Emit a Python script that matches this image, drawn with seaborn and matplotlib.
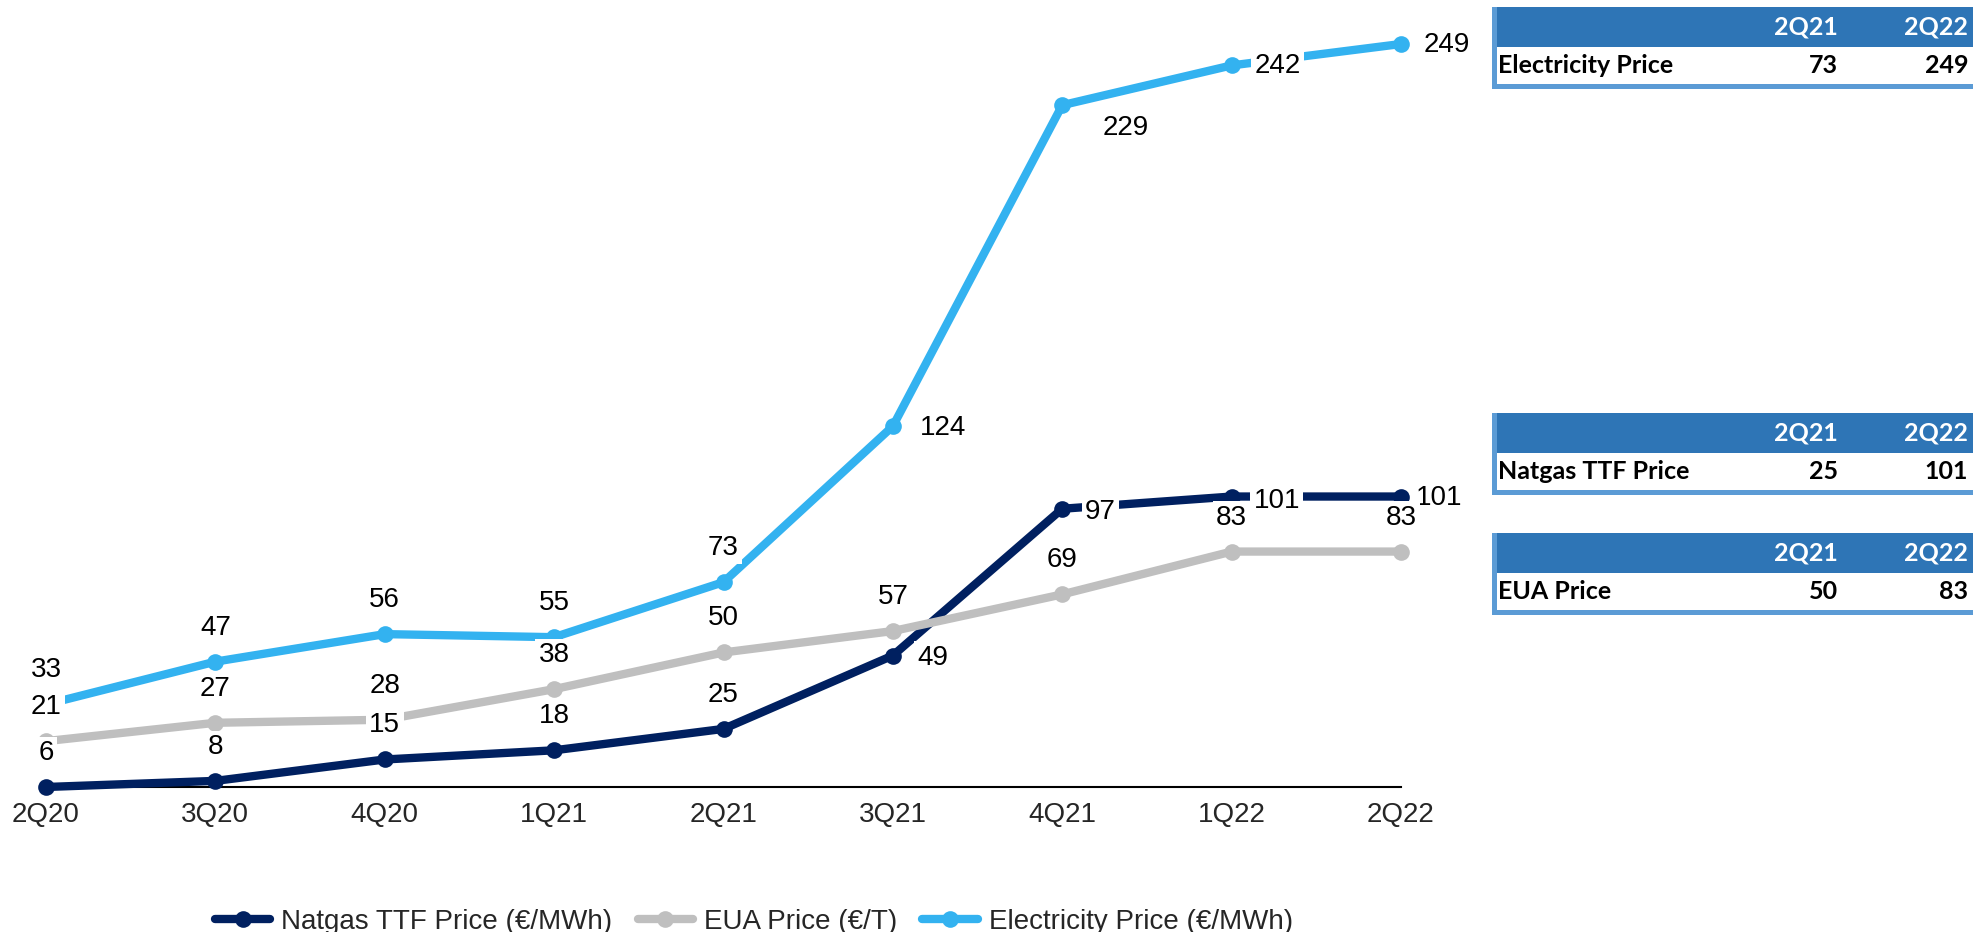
"""Natgas, EUA and electricity quarterly prices with summary tables."""

import matplotlib.pyplot as plt
import numpy as np
import pandas as pd
import seaborn as sns
from matplotlib.lines import Line2D
from matplotlib.patches import Rectangle

quarters = ["2Q20", "3Q20", "4Q20", "1Q21", "2Q21", "3Q21", "4Q21", "1Q22", "2Q22"]
natgas = [6, 8, 15, 18, 25, 49, 97, 101, 101]
eua = [21, 27, 28, 38, 50, 57, 69, 83, 83]
electricity = [33, 47, 56, 55, 73, 124, 229, 242, 249]

series_names = [
    "Natgas TTF Price (€/MWh)",
    "EUA Price (€/T)",
    "Electricity Price (€/MWh)",
]
series_colors = ["#002060", "#BFBFBF", "#33B2F0"]

table_titles = ["Electricity Price", "Natgas TTF Price", "EUA Price"]
table_cols = ["2Q21", "2Q22"]
table_2q21 = [73, 25, 50]
table_2q22 = [249, 101, 83]

# labels placed to the right of the point instead of above: offset in pixels
right_labels = {
    (2, 5): (27, -2),
    (2, 6): (40, -23),
    (2, 7): (23, -1),
    (2, 8): (23, -1),
    (0, 5): (24, -2),
    (0, 6): (23, -3),
    (0, 7): (22, -4),
    (0, 8): (15, -1),
}

sns.set_style("white")
plt.rcParams["font.family"] = ["Liberation Sans", "DejaVu Sans"]

W, H = 1973, 932
fig = plt.figure(figsize=(W / 100, H / 100), dpi=100)
ax = fig.add_axes([46 / W, 1 - 787 / H, (1401 - 46) / W, (787 - 44) / H])

all_values = [natgas, eua, electricity]
df = pd.DataFrame(
    {
        "quarter": quarters * 3,
        "pos": list(range(len(quarters))) * 3,
        "value": natgas + eua + electricity,
        "series": np.repeat(series_names, len(quarters)),
    }
)

sns.lineplot(
    data=df,
    x="pos",
    y="value",
    hue="series",
    hue_order=series_names,
    palette=series_colors,
    marker="o",
    markersize=12,
    markeredgewidth=0,
    linewidth=6,
    sort=False,
    legend=False,
    ax=ax,
    clip_on=False,
    zorder=3,
)

ax.set_xlim(0, len(quarters) - 1)
ax.set_ylim(6, 249)
ax.set_xticks(range(len(quarters)))
ax.set_xticklabels(quarters, fontsize=20)
ax.set_yticks([])
ax.set_xlabel("")
ax.set_ylabel("")
ax.tick_params(axis="x", length=0, pad=11)
for side in ["left", "top", "right"]:
    ax.spines[side].set_visible(False)
ax.spines["bottom"].set_color("black")
ax.spines["bottom"].set_linewidth(1.5)

for s, vals in enumerate(all_values):
    for i, v in enumerate(vals):
        if (s, i) in right_labels:
            dx, dy = right_labels[(s, i)]
            ha = "left"
        else:
            dx, dy = 0, 34
            ha = "center"
        ax.annotate(
            str(v),
            xy=(i, v),
            xytext=(dx, dy),
            textcoords="offset pixels",
            ha=ha,
            va="center",
            fontsize=20,
            color="black",
            zorder=6,
            annotation_clip=False,
            bbox=dict(boxstyle="square,pad=0.12", fc="white", ec="none"),
        )

handles = [
    Line2D([], [], color=c, lw=6, marker="o", markersize=12, markeredgewidth=0)
    for c in series_colors
]
fig.legend(
    handles,
    series_names,
    loc="center",
    bbox_to_anchor=(754 / W, 1 - 922 / H),
    ncol=3,
    frameon=False,
    fontsize=20,
    handlelength=2,
    handletextpad=0.4,
    columnspacing=0.9,
)

# summary tables on the right
header_color = "#2E75B6"
border_color = "#5B9BD5"
table_tops = [7, 413, 533]
for k, title in enumerate(table_titles):
    top = table_tops[k]
    head_h, row_h, border = 40, 37, 5
    total = head_h + row_h + border
    fig.patches.append(
        Rectangle((1492 / W, 1 - (top + total) / H), (W - 1492) / W, total / H,
                  transform=fig.transFigure, fc=border_color, ec="none")
    )
    fig.patches.append(
        Rectangle((1497 / W, 1 - (top + head_h) / H), (W - 1497) / W, head_h / H,
                  transform=fig.transFigure, fc=header_color, ec="none")
    )
    fig.patches.append(
        Rectangle((1497 / W, 1 - (top + head_h + row_h) / H), (W - 1497) / W, row_h / H,
                  transform=fig.transFigure, fc="white", ec="none")
    )
    head_y = 1 - (top + head_h / 2) / H
    row_y = 1 - (top + head_h + row_h / 2) / H
    font = dict(family=["Lato", "DejaVu Sans"], fontsize=18, fontweight="bold", va="center")
    for col, xr in zip(table_cols, [1838, 1968]):
        fig.text(xr / W, head_y, col, color="white", ha="right", **font)
    fig.text(1498 / W, row_y, title, color="black", ha="left", **font)
    fig.text(1838 / W, row_y, str(table_2q21[k]), color="black", ha="right", **font)
    fig.text(1968 / W, row_y, str(table_2q22[k]), color="black", ha="right", **font)

fig.savefig("out.png", dpi=100)
